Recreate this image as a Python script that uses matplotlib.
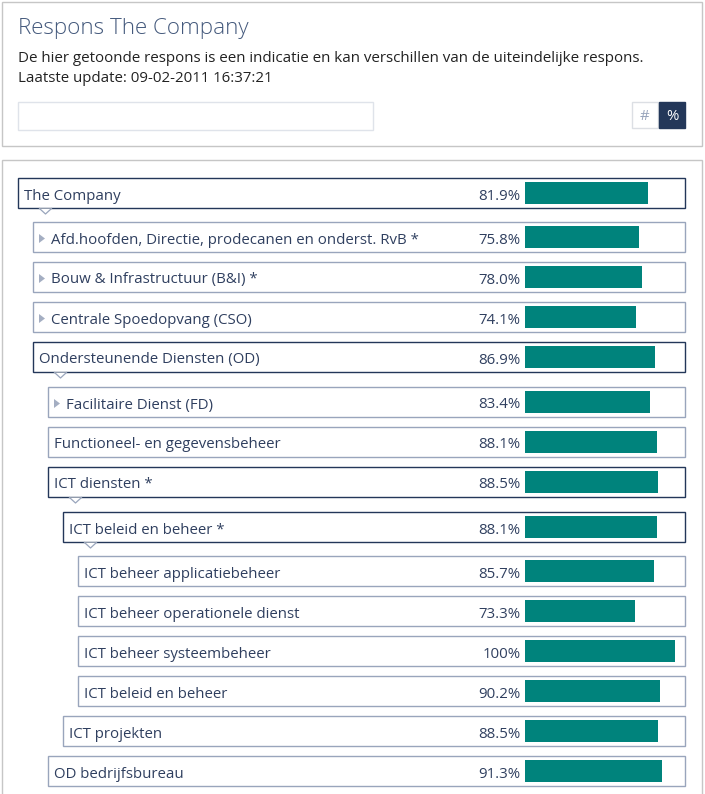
import matplotlib
matplotlib.use("Agg")
import matplotlib.pyplot as plt
from matplotlib.patches import Rectangle, Polygon

labels = ["The Company", "Afd.hoofden, Directie, prodecanen en onderst. RvB *",
          "Bouw & Infrastructuur (B&I) *", "Centrale Spoedopvang (CSO)",
          "Ondersteunende Diensten (OD)", "Facilitaire Dienst (FD)",
          "Functioneel- en gegevensbeheer", "ICT diensten *", "ICT beleid en beheer *",
          "ICT beheer applicatiebeheer", "ICT beheer operationele dienst",
          "ICT beheer systeembeheer", "ICT beleid en beheer", "ICT projekten",
          "OD bedrijfsbureau"]
values = [81.9, 75.8, 78.0, 74.1, 86.9, 83.4, 88.1, 88.5, 88.1, 85.7, 73.3, 100, 90.2, 88.5, 91.3]
value_labels = ["81.9%", "75.8%", "78.0%", "74.1%", "86.9%", "83.4%", "88.1%", "88.5%",
                "88.1%", "85.7%", "73.3%", "100%", "90.2%", "88.5%", "91.3%"]
levels = [0, 1, 1, 1, 1, 2, 2, 2, 3, 4, 4, 4, 4, 3, 2]
row_tops = [178, 222, 262, 302, 342, 387, 427, 467, 512, 556, 596, 636, 676, 716, 756]
expanded = [0, 4, 7, 8]
collapsed = [1, 2, 3, 5]
title = "Respons The Company"
subtitle = ["De hier getoonde respons is een indicatie en kan verschillen van de uiteindelijke respons.",
            "Laatste update: 09-02-2011 16:37:21"]

W, H = 705, 794
NAVY, SLATE, TEXT, TEAL = "#233759", "#99a5bc", "#2f3f5f", "#00837c"
FONT = "Open Sans"
FS = 10.85

fig = plt.figure(figsize=(W / 100, H / 100), dpi=100, facecolor="white")
ax = fig.add_axes([0, 0, 1, 1])
ax.set_xlim(0, W); ax.set_ylim(H, 0); ax.axis("off")

def box(x0, y0, x1, y1, fc="white", ec="none", lw=1.0, z=1):
    ax.add_patch(Rectangle((x0, y0), x1 - x0, y1 - y0, fc=fc, ec=ec, lw=lw, zorder=z))

box(2, 2, 702, 146, ec="#c6c6c6")
box(2, 160, 702, 800, ec="#c6c6c6")
box(18, 102, 373, 130, ec="#dfe3ea")
box(632, 102, 658, 128, ec="#dcdfe4")
box(659, 102, 685, 128, fc=NAVY, ec=NAVY)
ax.text(645, 116, "#", ha="center", va="center", color=SLATE, fontsize=FS, family=FONT)
ax.text(672.5, 116, "%", ha="center", va="center", color="white", fontsize=FS, family=FONT)
ax.text(18, 28.5, title, va="center", ha="left", color="#44597c", fontsize=16.15, family=FONT, fontweight="light")
ax.text(18, 58, subtitle[0], va="center", ha="left", color="#222222", fontsize=10.93, family=FONT)
ax.text(18, 78, subtitle[1], va="center", ha="left", color="#222222", fontsize=10.8, family=FONT)

# Grey tree background
ax.add_patch(Rectangle((18, 208), 668, 590, fc="#f1efed", ec="none", zorder=0.5))

for i, (lab, val, lev, top) in enumerate(zip(labels, value_labels, levels, row_tops)):
    left = 18 + 15 * lev
    is_open = i in expanded
    box(left, top, 685, top + 30, ec=NAVY if is_open else SLATE, z=2)
    if is_open:
        nx = left + 27.5
        ax.add_patch(Polygon([(nx - 6, top + 30.5), (nx, top + 36), (nx + 6, top + 30.5)],
                             closed=True, fc="white", ec="none", zorder=3))
        ax.plot([nx - 6, nx, nx + 6], [top + 30.5, top + 36, top + 30.5], color="#99a5bc", lw=0.9, zorder=3)
    tx = left + 6
    if i in collapsed:
        ax.add_patch(Polygon([(left + 6, top + 12), (left + 12, top + 16.5), (left + 6, top + 21)],
                             closed=True, fc="#a4aec2", ec="none", zorder=3))
        tx = left + 18
    ax.text(tx, top + 18, lab, va="center", ha="left", color=TEXT, fontsize=FS, family=FONT, zorder=4)
    ax.text(520.5, top + 18, val, va="center", ha="right", color=TEXT, fontsize=FS, family=FONT, zorder=4)

# Bars on their own 0-100 scale
bx = fig.add_axes([525 / W, 0, 150 / W, 1], facecolor="none")
bx.set_xlim(0, 100); bx.set_ylim(H, 0); bx.axis("off")
bx.barh([t + 14.5 for t in row_tops], values, height=22, left=0, color=TEAL, zorder=5)

fig.savefig("out.png", dpi=100)
